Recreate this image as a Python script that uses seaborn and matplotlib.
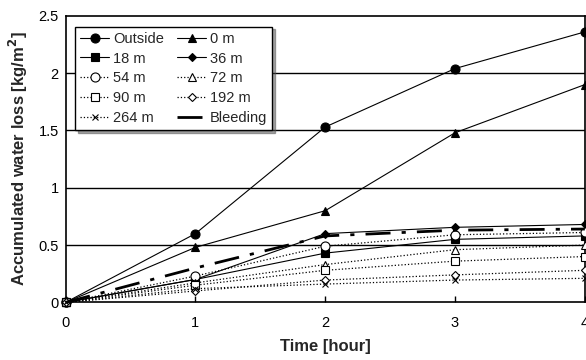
import matplotlib
matplotlib.use("Agg")
import matplotlib.pyplot as plt
import seaborn as sns
import pandas as pd

sns.set_theme(style="white")
plt.rcParams['font.family'] = ['Liberation Sans', 'DejaVu Sans']

hours = [0, 1, 2, 3, 4]
outside = [0, 0.60, 1.53, 2.04, 2.36]
m0 = [0, 0.48, 0.80, 1.48, 1.90]
m18 = [0, 0.20, 0.43, 0.55, 0.58]
m36 = [0, 0.20, 0.60, 0.655, 0.68]
m54 = [0, 0.23, 0.49, 0.59, 0.61]
m72 = [0, 0.17, 0.33, 0.46, 0.50]
m90 = [0, 0.15, 0.28, 0.36, 0.40]
m192 = [0, 0.10, 0.195, 0.24, 0.28]
m264 = [0, 0.12, 0.16, 0.195, 0.21]
bleeding = [0, 0.30, 0.58, 0.63, 0.64]

labels = ["Outside", "0 m", "18 m", "36 m", "54 m", "72 m", "90 m", "192 m", "264 m", "Bleeding"]
series = [outside, m0, m18, m36, m54, m72, m90, m192, m264, bleeding]

styles = {
    "Outside": dict(ls="-", marker="o", mfc="black", ms=6.5, lw=0.8),
    "0 m": dict(ls="-", marker="^", mfc="black", ms=6, lw=0.8),
    "18 m": dict(ls="-", marker="s", mfc="black", ms=6, lw=0.8),
    "36 m": dict(ls="-", marker="D", mfc="black", ms=4.5, lw=0.8),
    "54 m": dict(ls=":", marker="o", mfc="white", ms=6.5, lw=0.9),
    "72 m": dict(ls=":", marker="^", mfc="white", ms=6, lw=0.9),
    "90 m": dict(ls=":", marker="s", mfc="white", ms=6, lw=0.9),
    "192 m": dict(ls=":", marker="D", mfc="white", ms=4.5, lw=0.9),
    "264 m": dict(ls=":", marker="x", mfc="black", ms=5, lw=0.9),
    "Bleeding": dict(ls=(0, (9, 4, 1.5, 4)), marker=None, mfc="black", ms=0, lw=2.0),
}

fig = plt.figure(figsize=(5.86, 3.6), dpi=100)
ax = fig.add_axes([0.112, 0.16, 0.886, 0.796])

for lab, vals in zip(labels, series):
    df = pd.DataFrame({"t": hours, "v": vals})
    st = styles[lab]
    sns.lineplot(data=df, x="t", y="v", ax=ax, color="black", linestyle=st["ls"],
                 linewidth=st["lw"], marker=st["marker"], markersize=st["ms"],
                 markerfacecolor=st["mfc"], markeredgecolor="black", markeredgewidth=0.8,
                 label=lab, clip_on=False, zorder=3)

ax.set_xlim(0, 4)
ax.set_ylim(0, 2.5)
ax.set_xticks([0, 1, 2, 3, 4])
ax.set_xticklabels(["0", "1", "2", "3", "4"])
ax.set_yticks([0, 0.5, 1, 1.5, 2, 2.5])
ax.set_yticklabels(["0", "0.5", "1", "1.5", "2", "2.5"])
ax.tick_params(axis="both", labelsize=10.5, colors="black")
ax.tick_params(axis="x", direction="in", length=4, width=1, bottom=True, pad=10)
ax.tick_params(axis="y", length=0, pad=5)
for y in [0.5, 1, 1.5, 2]:
    ax.axhline(y, color="black", lw=1.0, zorder=1)
for s in ax.spines.values():
    s.set_color("black")
    s.set_linewidth(1.2)

ax.set_xlabel("Time [hour]", fontsize=12, fontweight="bold", labelpad=6)
ax.set_ylabel("Accumulated water loss [kg/m$^\\mathbf{2}$]", fontsize=12, fontweight="bold", labelpad=6)

handles, labs = ax.get_legend_handles_labels()
order = [0, 2, 4, 6, 8, 1, 3, 5, 7, 9]
leg = ax.legend([handles[i] for i in order], [labs[i] for i in order],
                loc="upper left", ncol=2, fontsize=10.5, frameon=True, fancybox=False,
                shadow=True, handlelength=2.0, columnspacing=0.9, labelspacing=0.4,
                borderpad=0.35, handletextpad=0.25, bbox_to_anchor=(0.004, 0.988))
leg.get_frame().set_edgecolor("black")
leg.get_frame().set_linewidth(1.0)

fig.savefig("out.png", dpi=100)
